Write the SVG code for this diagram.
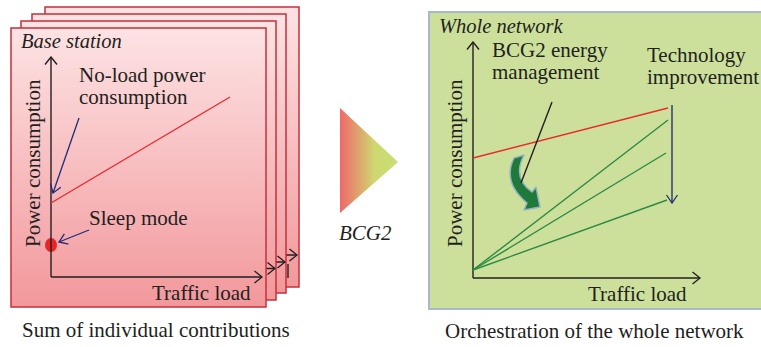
<svg xmlns="http://www.w3.org/2000/svg" width="761" height="347" viewBox="0 0 761 347">
<style>
.card{stroke:#c4313b;stroke-width:1.5;fill:url(#cardGrad)}
.lbl{font-family:"Liberation Serif","Times New Roman",serif;font-size:21px;fill:#231f20}
.ttl{font-family:"Liberation Serif","Times New Roman",serif;font-size:20.5px;font-style:italic;fill:#231f20}
.axis{stroke:#231f20;stroke-width:1.4;fill:none}
.ptr{stroke:#1f2d78;stroke-width:1.3;fill:none}
.red{stroke:#ec2a2e;stroke-width:1.4;fill:none}
.grn{stroke:#2e8a42;stroke-width:1.4;fill:none}
</style>
<defs>
<linearGradient id="cardGrad" x1="0" y1="0" x2="0" y2="1">
<stop offset="0" stop-color="#fde3e4"/>
<stop offset="1" stop-color="#f2989b"/>
</linearGradient>
<linearGradient id="triGrad" x1="340" y1="0" x2="398" y2="0" gradientUnits="userSpaceOnUse">
<stop offset="0" stop-color="#ef6868"/>
<stop offset="0.6" stop-color="#cfd870"/>
<stop offset="1" stop-color="#c8df72"/>
</linearGradient>
<marker id="ahK" markerUnits="userSpaceOnUse" viewBox="-9 -7 10 14" refX="0" refY="0" markerWidth="10" markerHeight="14" orient="auto">
<path d="M-7.5,-6 L0,0 L-7.5,6" fill="none" stroke="#231f20" stroke-width="1.4"/>
</marker>
<marker id="ahB" markerUnits="userSpaceOnUse" viewBox="-9 -7 10 14" refX="0" refY="0" markerWidth="10" markerHeight="14" orient="auto">
<path d="M-8,-5.5 L0,0 L-8,5.5" fill="none" stroke="#1f2d78" stroke-width="1.3"/>
</marker>
</defs>

<g id="card4">
<rect class="card" x="45" y="7" width="254" height="280"/>
<path class="axis" d="M200 255 L297 255" marker-end="url(#ahK)"/>
<line class="axis" x1="288" y1="264" x2="288" y2="278"/>
</g>
<g id="card3">
<rect class="card" x="32" y="14" width="254" height="279"/>
<path class="axis" d="M200 262 L285 262" marker-end="url(#ahK)"/>
</g>
<g id="card2">
<rect class="card" x="21" y="21" width="255" height="279"/>
<path class="axis" d="M200 268.5 L275 268.5" marker-end="url(#ahK)"/>
</g>
<g id="card1">
<rect class="card" x="11" y="28" width="255" height="279"/>
<text class="ttl" x="21" y="48">Base station</text>
<text class="lbl" x="79" y="82">No-load power</text>
<text class="lbl" x="79" y="104">consumption</text>
<text class="lbl" x="89" y="225">Sleep mode</text>
<text class="lbl" x="152" y="300">Traffic load</text>
<text class="lbl" transform="translate(40 247) rotate(-90)">Power consumption</text>
<ellipse id="sleep-dot" cx="51" cy="245" rx="6" ry="7" fill="#e8262a"/>
</g>

<g id="bcg2-arrow">
<polygon points="340,108 398,162 340,213" fill="url(#triGrad)"/>
<text class="ttl" x="339" y="240" style="font-size:21px">BCG2</text>
</g>

<g id="network-panel">
<rect x="429" y="12" width="345" height="297" fill="#cce09c" stroke="#a9b9c6" stroke-width="2"/>
<text class="ttl" x="439" y="33">Whole network</text>
<text class="lbl" x="492" y="57">BCG2 energy</text>
<text class="lbl" x="492" y="79">management</text>
<text class="lbl" x="647" y="62">Technology</text>
<text class="lbl" x="647" y="84">improvement</text>
<text class="lbl" x="588" y="301">Traffic load</text>
<text class="lbl" transform="translate(462 247) rotate(-90)">Power consumption</text>
<path id="bcg2-curve" d="M514 158 L524 155 Q512 178 532 192 L536 187 L540 207 L524 210 L527 203 Q502 182 514 158 Z" fill="#1f7a3a" stroke="#94b2c2" stroke-width="1.5" stroke-linejoin="round"/>
</g>

<g id="captions">
<text class="lbl" x="22" y="337">Sum of individual contributions</text>
<text class="lbl" x="445" y="338">Orchestration of the whole network</text>
</g>

<g id="connectors">
<path class="axis" d="M51 277 L51 57" marker-end="url(#ahK)"/>
<path class="axis" d="M51 277 L262 277" marker-end="url(#ahK)"/>
<path class="red" d="M51 203 L230 97"/>
<path class="ptr" d="M79 118 L53 193" marker-end="url(#ahB)"/>
<path class="ptr" d="M89 230 L59 242" marker-end="url(#ahB)"/>

<path class="axis" d="M473 278 L473 42" marker-end="url(#ahK)"/>
<path class="axis" d="M473 278 L700 278" marker-end="url(#ahK)"/>
<path class="red" d="M473 158 L668 108"/>
<path class="grn" d="M473 270 L668 120"/>
<path class="grn" d="M473 270 L666 153"/>
<path class="grn" d="M473 270 L667 200"/>
<path class="ptr" d="M672 105 L672 203" marker-end="url(#ahB)" style="stroke:#1a2868"/>
<path class="axis" d="M552 102 L521 183"/>
</g>
</svg>
